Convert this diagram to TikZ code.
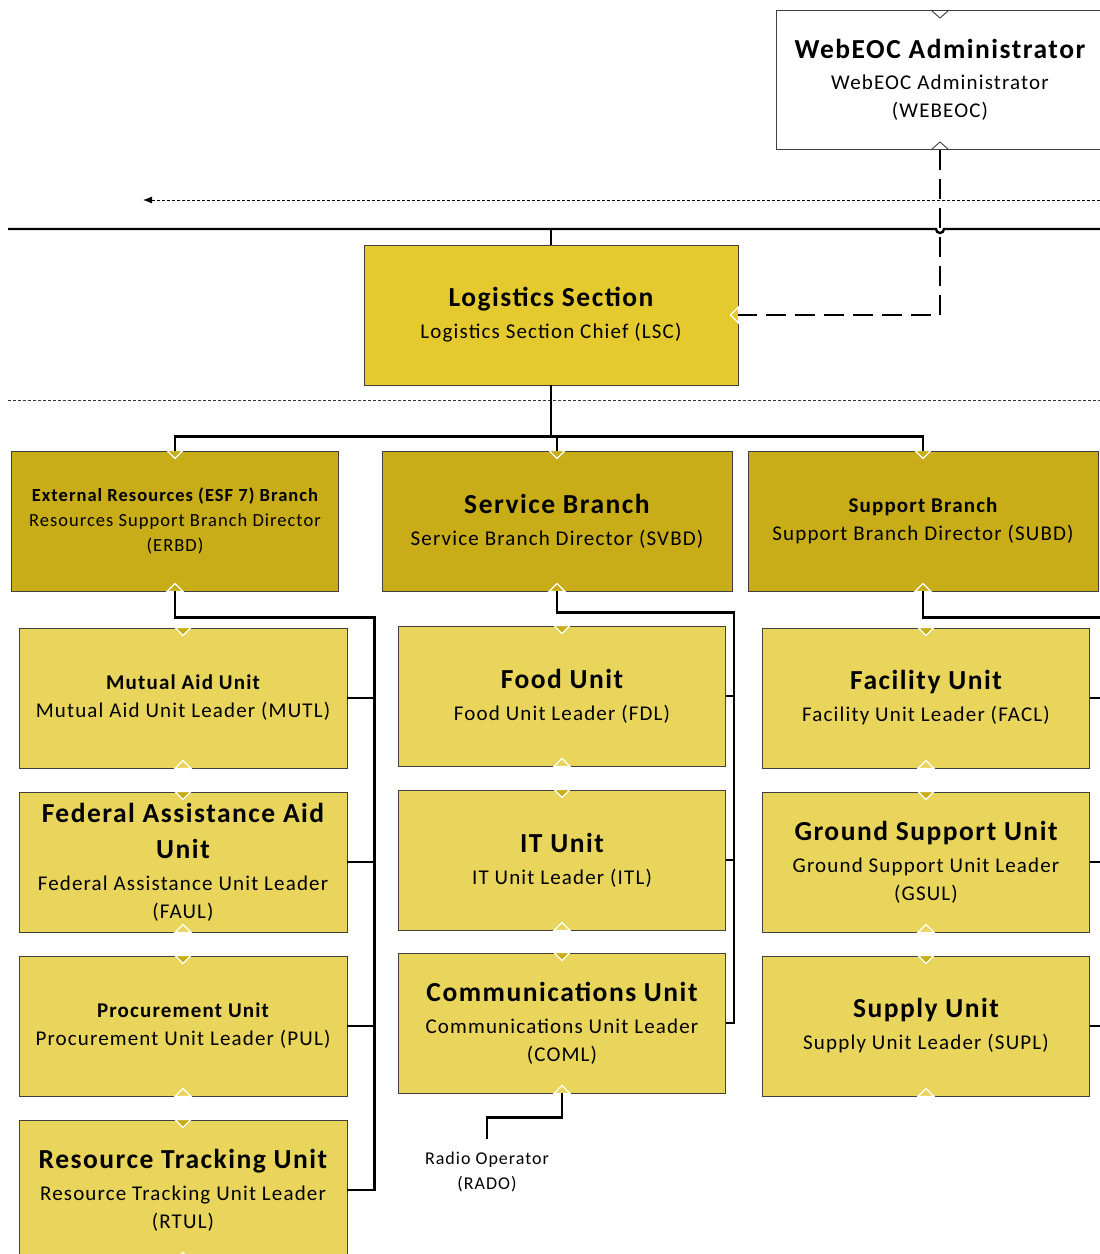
\documentclass[tikz,border=0pt]{standalone}
\usepackage{fontspec}
\setmainfont{Carlito}[LetterSpace=5.5]
\usetikzlibrary{arrows.meta}

\definecolor{secfill}{HTML}{E4CA2F}
\definecolor{brfill}{HTML}{C8AD19}
\definecolor{unitfill}{HTML}{E9D55B}
\definecolor{boxline}{HTML}{404040}

\newcommand{\bigttl}{\fontsize{27.5}{30}\selectfont\bfseries}
\newcommand{\midttl}{\fontsize{21}{24}\selectfont\bfseries}
\newcommand{\subtxt}{\fontsize{21}{28}\selectfont}
\newcommand{\smlttl}{\fontsize{18.5}{21}\selectfont\bfseries}
\newcommand{\smltxt}{\fontsize{18.5}{25}\selectfont}
\newcommand{\opstxt}{\fontsize{18}{25}\selectfont}

\tikzset{
  orgbox/.style={draw=boxline, line width=0.9pt, inner sep=0pt, align=center,
    minimum height=140, font=\subtxt},
  secbox/.style={orgbox, fill=secfill, minimum width=374},
  brbox/.style={orgbox, fill=brfill, minimum width=#1},
  unitbox/.style={orgbox, fill=unitfill, minimum width=327},
  link/.style={line width=2.4pt, black},
  adminlink/.style={line width=2.4pt, black, dash pattern=on 20pt off 9pt},
  feed/.style={line width=0.8pt, black, dash pattern=on 3pt off 2pt, -{Latex[length=9pt,width=7pt]}},
  sepline/.style={line width=0.7pt, black!80, dash pattern=on 3pt off 2pt},
}

\begin{document}
\begin{tikzpicture}[x=1pt, y=-1pt]
\useasboundingbox (0,0) rectangle (1100,1254);

% separators and feed
\coordinate (feedin) at (1100,200);
\coordinate (feedout) at (143,200);
\draw[feed] (feedin) -- (feedout);
\draw[sepline] (8,400) -- (1100,400);

% command bus
\coordinate (busl) at (8,229);
\coordinate (busr) at (1100,229);
\draw[link] (busl) -- (936,229) arc (180:0:4) -- (busr);

% admin and section
\node[orgbox, fill=white, minimum width=328, minimum height=139] (webeoc) at (940,80)
  {{\bigttl WebEOC Administrator}\\[3pt] WebEOC Administrator\\(WEBEOC)};
\node[secbox] (lsc) at (551,315)
  {{\bigttl Logistics Section}\\[4pt] Logistics Section Chief (LSC)};

% branches
\node[brbox=327, font=\smltxt] (erbd) at (175,521)
  {{\smlttl External Resources (ESF 7) Branch}\\Resources Support Branch Director\\(ERBD)};
\node[brbox=350] (svbd) at (557,521)
  {{\bigttl Service Branch}\\[4pt] Service Branch Director (SVBD)};
\node[brbox=350] (subd) at (923,521)
  {{\midttl Support Branch}\\ Support Branch Director (SUBD)};

% units, left
\node[unitbox, minimum width=328] (mutl) at (183,698)
  {{\midttl Mutual Aid Unit}\\ Mutual Aid Unit Leader (MUTL)};
\node[unitbox, minimum width=328] (faul) at (183,862)
  {{\bigttl Federal Assistance Aid}\\[8pt]{\bigttl Unit}\\[4pt] Federal Assistance Unit Leader\\(FAUL)};
\node[unitbox, minimum width=328] (pul) at (183,1026)
  {{\midttl Procurement Unit}\\ Procurement Unit Leader (PUL)};
\node[unitbox, minimum width=328] (rtul) at (183,1190)
  {{\bigttl Resource Tracking Unit}\\[4pt] Resource Tracking Unit Leader\\(RTUL)};

% units, middle
\node[unitbox] (fdl) at (562,696)
  {{\bigttl Food Unit}\\[4pt] Food Unit Leader (FDL)};
\node[unitbox] (itl) at (562,860)
  {{\bigttl IT Unit}\\[4pt] IT Unit Leader (ITL)};
\node[unitbox] (coml) at (562,1023)
  {{\bigttl Communications Unit}\\[4pt] Communications Unit Leader\\(COML)};

% units, right
\node[unitbox] (facl) at (926,698)
  {{\bigttl Facility Unit}\\[4pt] Facility Unit Leader (FACL)};
\node[unitbox] (gsul) at (926,862)
  {{\bigttl Ground Support Unit}\\[4pt] Ground Support Unit Leader\\(GSUL)};
\node[unitbox] (supl) at (926,1026)
  {{\bigttl Supply Unit}\\[4pt] Supply Unit Leader (SUPL)};

\node[inner sep=0pt, align=center, font=\opstxt] (rado) at (487,1172)
  {Radio Operator\\(RADO)};

% notches
\foreach \n/\c in {erbd/brfill, svbd/brfill, subd/brfill,
    mutl/unitfill, faul/unitfill, pul/unitfill, rtul/unitfill,
    fdl/unitfill, itl/unitfill, coml/unitfill,
    facl/unitfill, gsul/unitfill, supl/unitfill} {
  \filldraw[fill=brfill, draw=white, line width=1.2pt]
    ([xshift=-8]\n.north) -- ([yshift=-8]\n.north) -- ([xshift=8]\n.north) -- cycle;
  \filldraw[fill=\c, draw=white, line width=1.2pt]
    ([xshift=-8]\n.south) -- ([yshift=8]\n.south) -- ([xshift=8]\n.south) -- cycle;
}
\draw[boxline, line width=0.9pt] ([xshift=-9]webeoc.north) -- ([yshift=-8]webeoc.north) -- ([xshift=9]webeoc.north);
\draw[boxline, line width=0.9pt] ([xshift=-9]webeoc.south) -- ([yshift=8]webeoc.south) -- ([xshift=9]webeoc.south);
\filldraw[fill=secfill, draw=white, line width=1.2pt]
  ([yshift=8]lsc.east) -- ([xshift=-8]lsc.east) -- ([yshift=-8]lsc.east) -- cycle;

% connectors
\draw[adminlink] (webeoc.south) |- (lsc.east);
\draw[link] (lsc.north) -- (lsc.north |- busl);
\draw[link] (lsc.south) -- ++(0,51) -| (erbd.north);
\draw[link] (lsc.south) -- ++(0,51) -| (svbd.north);
\draw[link] (lsc.south) -- ++(0,51) -| (subd.north);

\draw[link] (erbd.south) -- ++(0,26) -| ([xshift=27]rtul.east) -- (rtul.east);
\draw[link] (mutl.east) -- ++(27,0);
\draw[link] (faul.east) -- ++(27,0);
\draw[link] (pul.east) -- ++(27,0);

\draw[link] (svbd.south) -- ++(0,21) -| ([xshift=8]coml.east) -- (coml.east);
\draw[link] (fdl.east) -- ++(8,0);
\draw[link] (itl.east) -- ++(8,0);

\draw[link] (subd.south) -- ++(0,26) -| ([xshift=30]supl.east) -- (supl.east);
\draw[link] (facl.east) -- ++(30,0);
\draw[link] (gsul.east) -- ++(30,0);

\draw[link] (coml.south) -- ++(0,24) -| ([yshift=13]rado.north);
\end{tikzpicture}
\end{document}
